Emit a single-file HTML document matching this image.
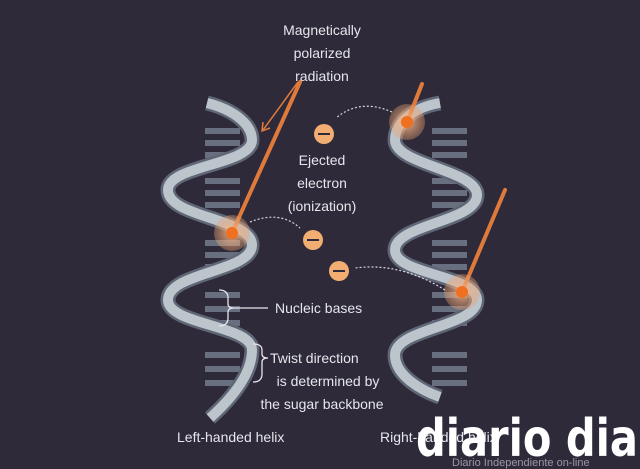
<!DOCTYPE html>
<html><head><style>
html,body{margin:0;padding:0;background:#2e2a3a;}
svg{display:block}
text{font-family:"Liberation Sans",sans-serif;fill:#e6e6ec;font-size:14px}
</style></head><body>
<svg width="640" height="469" viewBox="0 0 640 469">
<defs>
<radialGradient id="g"><stop offset="0" stop-color="#f6b98a" stop-opacity=".9"/><stop offset="1" stop-color="#e8a070" stop-opacity=".35"/></radialGradient>
</defs>
<rect width="640" height="469" fill="#2e2a3a"/>
<g fill="#687080">
<rect x="205" y="128" width="35" height="6"/><rect x="205" y="140" width="35" height="6"/><rect x="205" y="152" width="35" height="6"/>
<rect x="205" y="178" width="35" height="6"/><rect x="205" y="190" width="35" height="6"/><rect x="205" y="202" width="35" height="6"/>
<rect x="205" y="240" width="35" height="6"/><rect x="205" y="252" width="35" height="6"/><rect x="205" y="264" width="35" height="6"/>
<rect x="205" y="292" width="35" height="6"/><rect x="205" y="306" width="35" height="6"/><rect x="205" y="320" width="35" height="6"/>
<rect x="205" y="352" width="35" height="6"/><rect x="205" y="366" width="35" height="6"/><rect x="205" y="380" width="35" height="6"/>
</g>
<g fill="#687080">
<rect x="432" y="128" width="35" height="6"/><rect x="432" y="140" width="35" height="6"/><rect x="432" y="152" width="35" height="6"/>
<rect x="432" y="178" width="35" height="6"/><rect x="432" y="190" width="35" height="6"/><rect x="432" y="202" width="35" height="6"/>
<rect x="432" y="240" width="35" height="6"/><rect x="432" y="252" width="35" height="6"/><rect x="432" y="264" width="35" height="6"/>
<rect x="432" y="292" width="35" height="6"/><rect x="432" y="306" width="35" height="6"/><rect x="432" y="320" width="35" height="6"/>
<rect x="432" y="352" width="35" height="6"/><rect x="432" y="366" width="35" height="6"/><rect x="432" y="380" width="35" height="6"/>
</g>
<path d="M207 103 C235 110,252 125,252 140 C252 165,168 165,168 190 C168 218,252 218,252 245 C252 272,168 272,168 300 C168 325,252 325,252 350 C252 375,230 400,210 418" fill="none" stroke="#5f6676" stroke-width="15"/>
<path d="M207 103 C235 110,252 125,252 140 C252 165,168 165,168 190 C168 218,252 218,252 245 C252 272,168 272,168 300 C168 325,252 325,252 350 C252 375,230 400,210 418" fill="none" stroke="#bcc4cc" stroke-width="10"/>
<path d="M440 103 C410 108,395 125,395 140 C395 165,477 170,477 195 C477 222,395 224,395 250 C395 275,477 275,477 300 C477 327,395 328,395 355 C395 375,420 390,440 397" fill="none" stroke="#5f6676" stroke-width="15"/>
<path d="M440 103 C410 108,395 125,395 140 C395 165,477 170,477 195 C477 222,395 224,395 250 C395 275,477 275,477 300 C477 327,395 328,395 355 C395 375,420 390,440 397" fill="none" stroke="#bcc4cc" stroke-width="10"/>
<g stroke="#e07a3a" stroke-width="4" stroke-linecap="round">
<line x1="232" y1="233" x2="300" y2="82"/>
<line x1="407" y1="122" x2="422" y2="84"/>
<line x1="462" y1="292" x2="505" y2="190"/>
</g>
<line x1="298" y1="82" x2="263" y2="130" stroke="#e07a3a" stroke-width="1.5"/>
<path d="M263 122 L262 131 L270 128" fill="none" stroke="#e07a3a" stroke-width="1.5"/>
<circle cx="232" cy="233" r="18" fill="url(#g)"/><circle cx="232" cy="233" r="6" fill="#f07020"/>
<circle cx="407" cy="122" r="18" fill="url(#g)"/><circle cx="407" cy="122" r="6" fill="#f07020"/>
<circle cx="462" cy="292" r="18" fill="url(#g)"/><circle cx="462" cy="292" r="6" fill="#f07020"/>
<g fill="none" stroke="#d8d8e0" stroke-width="1.2" stroke-dasharray="2 2">
<path d="M250 222 Q280 210 300 228"/>
<path d="M392 112 Q360 98 336 118"/>
<path d="M445 290 Q400 262 355 268"/>
</g>
<g>
<circle cx="324" cy="134" r="10" fill="#f2ae72"/><line x1="318" y1="134" x2="330" y2="134" stroke="#2e2a3a" stroke-width="2"/>
<circle cx="313" cy="240" r="10" fill="#f2ae72"/><line x1="307" y1="240" x2="319" y2="240" stroke="#2e2a3a" stroke-width="2"/>
<circle cx="339" cy="271" r="10" fill="#f2ae72"/><line x1="333" y1="271" x2="345" y2="271" stroke="#2e2a3a" stroke-width="2"/>
</g>
<g fill="none" stroke="#e6e6ec" stroke-width="1.3">
<path d="M219 290 Q228 290 228 298 L228 304 Q228 308 234 308 Q228 308 228 312 L228 318 Q228 326 219 326"/>
<line x1="234" y1="308" x2="268" y2="308"/>
<path d="M253 344 Q262 344 262 350 L262 354 Q262 358 268 358 Q262 358 262 362 L262 374 Q262 382 253 382"/>
</g>
<g text-anchor="middle">
<text x="322" y="35">Magnetically</text>
<text x="322" y="58">polarized</text>
<text x="322" y="81">radiation</text>
<text x="322" y="165">Ejected</text>
<text x="322" y="188">electron</text>
<text x="322" y="211">(ionization)</text>
<text x="328" y="386">is determined by</text>
<text x="322" y="409">the sugar backbone</text>
</g>
<text x="275" y="313">Nucleic bases</text>
<text x="270" y="363">Twist direction</text>
<text x="177" y="442">Left-handed helix</text>
<text x="380" y="442">Right-handed helix</text>
<text x="416" y="456" textLength="222" lengthAdjust="spacingAndGlyphs" style="font-size:52px;font-weight:bold;fill:#fff;font-family:'DejaVu Sans',sans-serif">diario dia</text>
<text x="452" y="466" style="font-size:11px;fill:#9a98a8">Diario Independiente on-line</text>
</svg>
</body></html>
